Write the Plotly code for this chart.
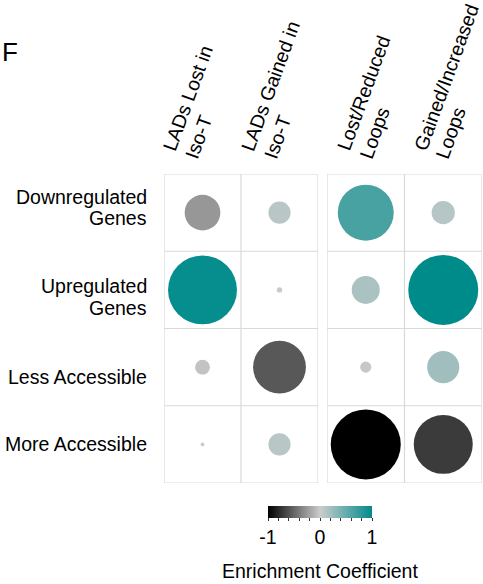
import math
import numpy as np
import plotly.graph_objects as go

# Row and column categories
rows = ["Downregulated<br>Genes", "Upregulated<br>Genes", "Less Accessible", "More Accessible"]
lad_cols = ["LADs Lost in<br>Iso-T", "LADs Gained in<br>Iso-T"]
loop_cols = ["Lost/Reduced<br>Loops", "Gained/Increased<br>Loops"]

# Enrichment coefficients per column (row order as in `rows`)
lad_lost = [-0.26, 0.97, -0.045, -0.003]
lad_gained = [0.10, -0.006, -0.57, 0.10]
loops_lost = [0.64, 0.16, -0.025, -1.0]
loops_gained = [0.11, 1.0, 0.21, -0.71]

cbar_tickvals = [-1, -0.8, -0.6, -0.4, -0.2, 0, 0.2, 0.4, 0.6, 0.8, 1]
cbar_ticktext = ["-1", "", "", "", "", "0", "", "", "", "", "1"]

W, H = 483, 584
FONT = "Arial, Liberation Sans, Helvetica, sans-serif"
FS = 19.5
MAX_D = 70  # circle diameter (px) for |coefficient| = 1
GRID = "#d9d9d9"
colorscale = [[0.0, "#000000"], [0.5, "#cccccc"], [1.0, "#008b8b"]]

# label layout (pixels)
ROW_LINE_OFFSETS = [[-16, 5.5], [-3.5, 18.5], [9.5], [-0.5]]  # line centre offsets from row centre
COL_ANGLE = 70
COL_LINE_GAP = 23.5
COL_FIRST_LINE_DX = {"x": [-29, -27], "x2": [-17.5, -19]}  # baseline start, from column centre
COL_FIRST_LINE_Y = 153.5


def px_x(p):
    return p / W


def px_y(p):
    return 1 - p / H


def panel(columns_vals, xa, ya, show_scale):
    xs, ys, vals = [], [], []
    for ci, colvals in enumerate(columns_vals):
        for ri, v in enumerate(colvals):
            xs.append(ci)
            ys.append(ri)
            vals.append(v)
    vals = np.array(vals)
    # circle area proportional to |coefficient|
    sizes = MAX_D * np.sqrt(np.abs(vals))
    marker = dict(size=sizes, sizemode="diameter", color=vals, cmin=-1, cmax=1,
                  colorscale=colorscale, line=dict(width=0), opacity=1)
    if show_scale:
        marker.update(showscale=True, colorbar=dict(
            orientation="h", x=px_x(320), xanchor="center", y=px_y(506), yanchor="top",
            len=104, lenmode="pixels", thickness=12, xpad=0, ypad=0,
            outlinewidth=0, tickvals=cbar_tickvals, ticktext=cbar_ticktext,
            ticks="outside", ticklen=3, tickcolor="#333333", tickwidth=1,
            tickfont=dict(family=FONT, size=FS, color="black")))
    else:
        marker["showscale"] = False
    return go.Scatter(x=xs, y=ys, mode="markers", marker=marker,
                      xaxis=xa, yaxis=ya, hoverinfo="skip", showlegend=False)


fig = go.Figure()
fig.add_trace(panel([lad_lost, lad_gained], "x", "y", False))
fig.add_trace(panel([loops_lost, loops_gained], "x2", "y2", True))

ydom = [px_y(483), px_y(174)]
axis_common = dict(showgrid=False, zeroline=False, showline=False, fixedrange=True,
                   automargin=False, showticklabels=False, ticks="")
fig.update_layout(
    width=W, height=H, margin=dict(l=0, r=0, t=0, b=0, autoexpand=False),
    paper_bgcolor="white", plot_bgcolor="white",
    font=dict(family=FONT, size=FS, color="black"),
    xaxis=dict(domain=[px_x(164), px_x(318)], range=[-0.5, 1.5], anchor="y", **axis_common),
    yaxis=dict(domain=ydom, range=[3.5, -0.5], anchor="x", **axis_common),
    xaxis2=dict(domain=[px_x(327), px_x(482)], range=[-0.5, 1.5], anchor="y2", **axis_common),
    yaxis2=dict(domain=ydom, range=[3.5, -0.5], anchor="x2", **axis_common),
)

# cell grid for both panels
shapes = []
for xr, yr in (("x", "y"), ("x2", "y2")):
    shapes.append(dict(type="rect", xref=xr, yref=yr, x0=-0.5, x1=1.5, y0=-0.5, y1=3.5,
                       line=dict(color=GRID, width=1.2), layer="below"))
    shapes.append(dict(type="line", xref=xr, yref=yr, x0=0.5, x1=0.5, y0=-0.5, y1=3.5,
                       line=dict(color=GRID, width=1.2), layer="below"))
    for yy in (0.5, 1.5, 2.5):
        shapes.append(dict(type="line", xref=xr, yref=yr, x0=-0.5, x1=1.5, y0=yy, y1=yy,
                           line=dict(color=GRID, width=1.2), layer="below"))
fig.update_layout(shapes=shapes)

annotations = []

# row labels, one annotation per text line (right-aligned)
for ri, lab in enumerate(rows):
    for line, off in zip(lab.split("<br>"), ROW_LINE_OFFSETS[ri]):
        annotations.append(dict(text=line, xref="paper", yref="y", x=px_x(148), y=ri,
                                yshift=-off, xanchor="right", yanchor="middle",
                                showarrow=False, borderpad=0, font=dict(size=FS)))

# slanted column labels, one annotation per text line
a = math.radians(COL_ANGLE)
perp = (math.sin(a), math.cos(a))  # direction from one text line to the next
descent = 0.21 * FS
box_h = 1.117 * FS
for xr, labels in (("x", lad_cols), ("x2", loop_cols)):
    for ci, lab in enumerate(labels):
        dx0 = COL_FIRST_LINE_DX[xr][ci]
        for li, line in enumerate(lab.split("<br>")):
            sx = dx0 + li * COL_LINE_GAP * perp[0]
            sy = COL_FIRST_LINE_Y + li * COL_LINE_GAP * perp[1]
            # rotated box: left edge is the top-left corner, bottom is the bottom-left corner
            left = sx + descent * perp[0] - box_h * perp[0]
            bottom = sy + descent * perp[1]
            annotations.append(dict(text=line, xref=xr, yref="paper", x=ci, xshift=left,
                                    y=px_y(bottom), xanchor="left", yanchor="bottom",
                                    textangle=-COL_ANGLE, showarrow=False, borderpad=0,
                                    font=dict(size=FS)))

# colorbar title
annotations.append(dict(text="Enrichment Coefficient", xref="paper", yref="paper",
                        x=px_x(320), y=px_y(571), xanchor="center", yanchor="middle",
                        showarrow=False, font=dict(size=FS)))
# panel letter
annotations.append(dict(text="F", xref="paper", yref="paper", x=px_x(0), y=px_y(52),
                        xanchor="left", yanchor="middle", showarrow=False,
                        font=dict(size=26)))
fig.update_layout(annotations=annotations)

fig.write_html("out.html")
